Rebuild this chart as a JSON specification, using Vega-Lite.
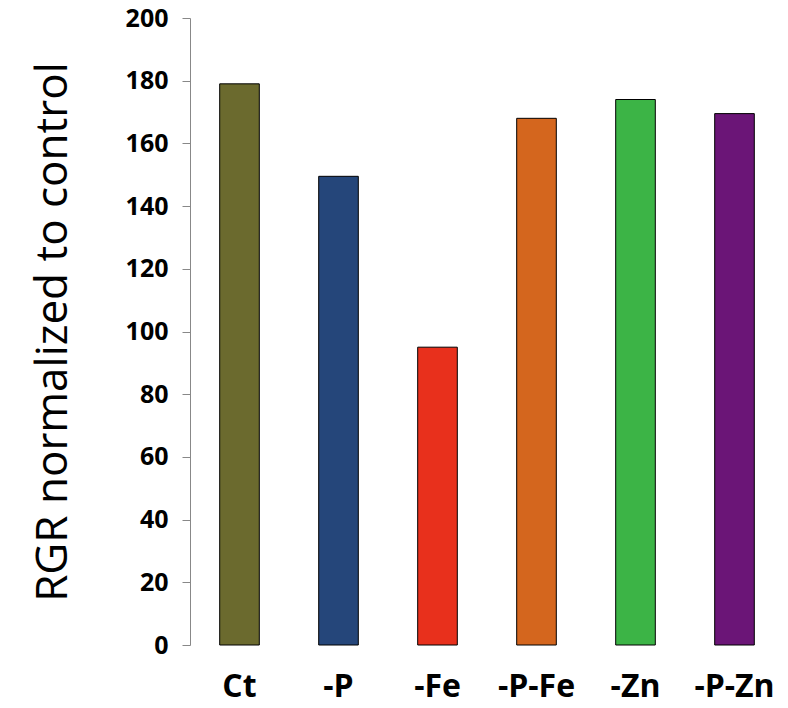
{
"$schema":"https://vega.github.io/schema/vega-lite/v6.json",
"autosize":"none",
"padding":{"left":190,"top":18,"right":4,"bottom":63},
"width":594,"height":627,
"config":{"view":{"stroke":null},"font":"Open Sans"},
"data":{"values":[
{"c":"Ct","v":179,"col":"#6b6a2e"},
{"c":"-P","v":149.5,"col":"#25467a"},
{"c":"-Fe","v":95,"col":"#e8301c"},
{"c":"-P-Fe","v":168,"col":"#d4661e"},
{"c":"-Zn","v":174,"col":"#3cb446"},
{"c":"-P-Zn","v":169.5,"col":"#6b1577"}]},
"mark":{"type":"bar","stroke":"black","strokeWidth":1},
"encoding":{
"x":{"field":"c","type":"nominal","sort":null,"scale":{"paddingInner":0.6,"paddingOuter":0.3},
"axis":{"title":null,"labelAngle":0,"labelFontSize":32,"labelFontWeight":"bold","labelColor":"black","domain":false,"ticks":false,"labelPadding":26}},
"y":{"field":"v","type":"quantitative","scale":{"domain":[0,200]},
"axis":{"title":"RGR normalized to control","titleFontSize":44,"titleFontWeight":"normal","titleColor":"black","titlePadding":50,"values":[0,20,40,60,80,100,120,140,160,180,200],"labelFontSize":25,"labelFontWeight":"bold","labelColor":"black","grid":false,"domainColor":"#888","tickColor":"#888","tickSize":8,"labelPadding":14}},
"color":{"field":"col","type":"nominal","scale":null}}
}
